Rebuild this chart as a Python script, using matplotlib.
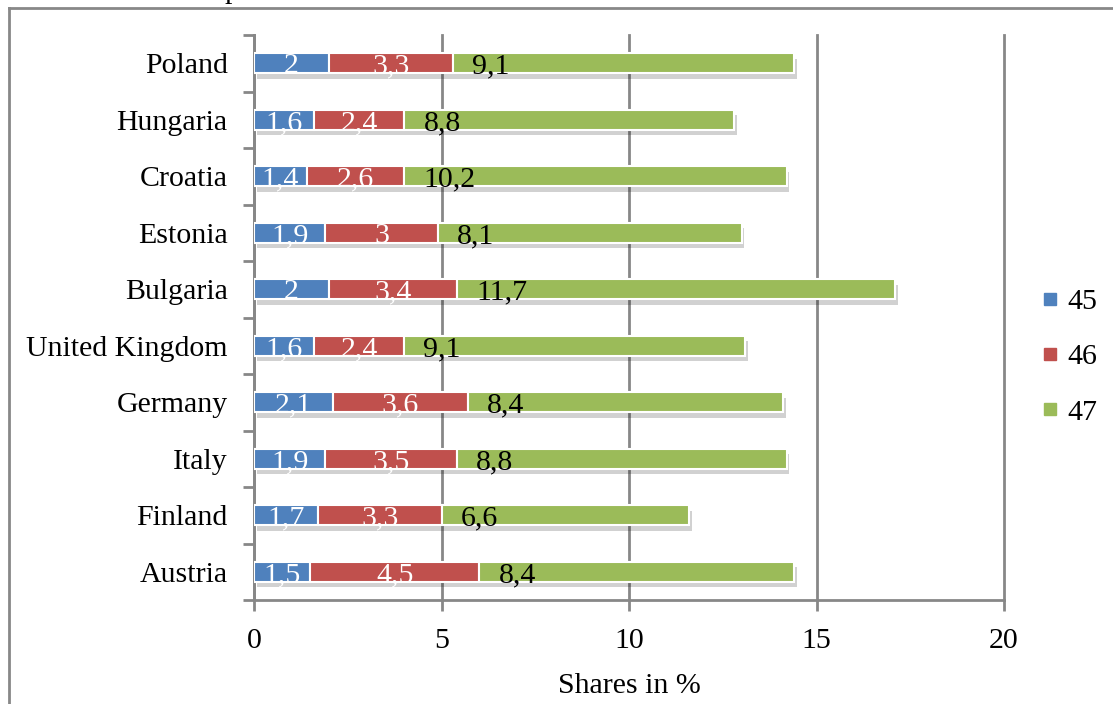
import matplotlib
matplotlib.use("Agg")
import matplotlib.pyplot as plt
import matplotlib.patheffects as pe
from matplotlib.lines import Line2D
import numpy as np

countries = ["Poland", "Hungaria", "Croatia", "Estonia", "Bulgaria",
             "United Kingdom", "Germany", "Italy", "Finland", "Austria"]
s45 = [2, 1.6, 1.4, 1.9, 2, 1.6, 2.1, 1.9, 1.7, 1.5]
s46 = [3.3, 2.4, 2.6, 3, 3.4, 2.4, 3.6, 3.5, 3.3, 4.5]
s47 = [9.1, 8.8, 10.2, 8.1, 11.7, 9.1, 8.4, 8.8, 6.6, 8.4]
series_names = ["45", "46", "47"]
colors = ["#4F81BD", "#C0504D", "#9BBB59"]
label_colors = ["white", "white", "black"]
xticks = [0, 5, 10, 15, 20]

plt.rcParams['font.family'] = ['Liberation Serif', 'DejaVu Serif']
FS = 21.5
BH = 0.36

fig = plt.figure(figsize=(11.13, 7.04), dpi=100)
ax = fig.add_axes([254/1113, 1-600/704, 750/1113, 565/704])

y = np.arange(len(countries))
left = np.zeros(len(countries))
shadow = [pe.SimplePatchShadow(offset=(2, -4), shadow_rgbFace='black', alpha=0.18), pe.Normal()]
for k, (vals, c, lc, name) in enumerate(zip([s45, s46, s47], colors, label_colors, series_names)):
    vals = np.array(vals, dtype=float)
    bars = ax.barh(y, vals, left=left, height=BH, color=c, edgecolor='white',
                   linewidth=1.5, label=name, zorder=3)
    for b in bars:
        b.set_path_effects(shadow)
    for yi, l, v in zip(y, left, vals):
        txt = f"{v:g}".replace('.', ',')
        if k < 2:
            ax.annotate(txt, (l + v/2, yi + BH/2), ha='center', va='baseline',
                        color=lc, fontsize=FS, zorder=5)
        else:
            ax.annotate(txt, (l, yi + BH/2), xytext=(14, 0), textcoords='offset points',
                        ha='left', va='baseline', color=lc, fontsize=FS, zorder=5)
    left = left + vals

ax.set_xlim(0, 20)
ax.set_ylim(len(countries) - 0.5, -0.5)
ax.set_xticks(xticks)
ax.set_xticklabels([str(t) for t in xticks], fontsize=FS)
ax.set_yticks(np.arange(len(countries) + 1) - 0.5, minor=False)
ax.set_yticklabels([])
ax.set_yticks(y, minor=True)
ax.set_yticklabels(countries, minor=True, fontsize=FS)
ax.tick_params(axis='y', which='minor', length=0, pad=19)
ax.tick_params(axis='y', which='major', length=8, width=2, color='#878787')
ax.tick_params(axis='x', length=8, width=2, color='#878787', pad=12)
ax.grid(axis='x', color='#878787', linewidth=2, zorder=0)
for gl in ax.get_xgridlines():
    gl.set_clip_on(False)
for s in ['top', 'right']:
    ax.spines[s].set_visible(False)
for s in ['left', 'bottom']:
    ax.spines[s].set_color('#878787')
    ax.spines[s].set_linewidth(2)
ax.set_xlabel("Shares in %", fontsize=FS, labelpad=14)

handles = [Line2D([], [], marker='s', linestyle='none', markersize=8,
                  markerfacecolor=c, markeredgecolor=c) for c in colors]
fig.legend(handles, series_names, loc='center left', bbox_to_anchor=(1008/1113, 1-357/704),
           frameon=False, fontsize=FS, handletextpad=0.1, labelspacing=0.95, handlelength=1.0)

# outer frame
fig.add_artist(Line2D([9/1113, 9/1113], [0, 1-8/704], transform=fig.transFigure,
                      color='#888888', linewidth=2))
fig.add_artist(Line2D([9/1113, 1], [1-8/704, 1-8/704], transform=fig.transFigure,
                      color='#888888', linewidth=2))
fig.text(232/1113, 1+2/704, "p", fontsize=FS, va='baseline', ha='center')

fig.savefig("out.png", dpi=100)
